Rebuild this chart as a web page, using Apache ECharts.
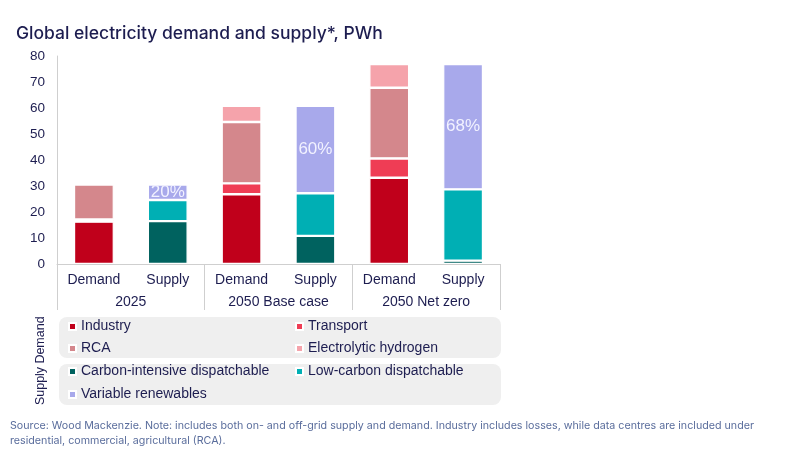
<!DOCTYPE html>
<html lang="en">
<head>
    <meta charset="UTF-8">
    <title>Global electricity demand and supply</title>
    <script src="https://cdn.jsdelivr.net/npm/echarts@6/dist/echarts.min.js"></script>
    <style>
        html, body { margin: 0; padding: 0; background: #fff; }
        #main { width: 800px; height: 450px; }
    </style>
</head>
<body>
<div id="main"></div>

<script type="text/javascript">
    // categories
    var bars = ['Demand', 'Supply', 'Demand', 'Supply', 'Demand', 'Supply'];
    var groups = ['2025', '2050 Base case', '2050 Net zero'];

    // demand side, PWh (null on supply bars)
    var industry = [16.3, null, 26.8, null, 33.2, null];
    var transport = [0.8, null, 4.2, null, 7.4, null];
    var rca = [13.5, null, 23.6, null, 27.2, null];
    var hydrogen = [0, null, 6.2, null, 9.1, null];

    // supply side, PWh (null on demand bars)
    var carbonIntensive = [null, 16.5, null, 10.8, null, 1.3];
    var lowCarbon = [null, 8.1, null, 16.4, null, 27.4];
    var renewables = [null, 6.0, null, 33.6, null, 48.2];
    var renewShare = ['', '20%', '', '60%', '', '68%'];

    var navy = '#1d1d50';
    var axisGrey = '#cfcfcf';
    var font = 'Liberation Sans';

    function stackBar(name, data, color) {
        return {
            name: name,
            type: 'bar',
            stack: 'total',
            data: data,
            barWidth: '54%',
            itemStyle: { color: color, borderColor: '#fff', borderWidth: 1.2 },
            emphasis: { disabled: true }
        };
    }

    function legendRow(top, names) {
        return {
            top: top,
            left: 68,
            padding: 0,
            itemGap: 8,
            itemWidth: 7,
            itemHeight: 7,
            icon: 'rect',
            selectedMode: false,
            textStyle: { color: navy, fontSize: 14, width: 206, lineHeight: 15, fontFamily: font },
            data: names
        };
    }

    var myChart = echarts.init(document.getElementById('main'));

    var series = [
        stackBar('Industry', industry, '#c0001b'),
        stackBar('Transport', transport, '#ef3d55'),
        stackBar('RCA', rca, '#d4878c'),
        stackBar('Electrolytic hydrogen', hydrogen, '#f5a3ab'),
        stackBar('Carbon-intensive dispatchable', carbonIntensive, '#00625f'),
        stackBar('Low-carbon dispatchable', lowCarbon, '#00afb4'),
        stackBar('Variable renewables', renewables, '#a8a9eb')
    ];
    series[6].label = {
        show: true,
        position: 'inside',
        color: '#f2f2ff',
        fontSize: 17,
        fontFamily: font,
        formatter: function (p) { return renewShare[p.dataIndex]; }
    };

    var option = {
        animation: false,
        title: [{
            text: 'Global electricity demand and supply*, PWh',
            left: 11,
            top: 20,
            textStyle: { color: navy, fontSize: 17.5, fontWeight: 500, fontFamily: 'Inter' }
        }, {
            text: 'Source: Wood Mackenzie. Note: includes both on- and off-grid supply and demand. Industry includes losses, while data centres are included under\nresidential, commercial, agricultural (RCA).',
            left: 10,
            top: 418,
            padding: 0,
            textStyle: { color: '#5a6d9c', fontSize: 10.7, fontWeight: 'normal', lineHeight: 15, fontFamily: 'Inter' }
        }],
        grid: { left: 57, right: 300, top: 56, bottom: 186 },
        xAxis: [{
            type: 'category',
            data: bars,
            axisLine: { lineStyle: { color: axisGrey } },
            axisTick: { show: false },
            axisLabel: { color: navy, fontSize: 14, margin: 9, interval: 0, fontFamily: font }
        }, {
            type: 'category',
            data: groups,
            position: 'bottom',
            axisLine: { show: false },
            axisTick: { show: true, length: 46, lineStyle: { color: axisGrey } },
            axisLabel: { color: navy, fontSize: 14, margin: 31, fontFamily: font }
        }],
        yAxis: {
            type: 'value',
            min: 0,
            max: 80,
            interval: 10,
            axisLine: { show: true, lineStyle: { color: axisGrey } },
            axisTick: { show: false },
            splitLine: { show: false },
            axisLabel: { color: navy, fontSize: 13.5, margin: 12, fontFamily: font }
        },
        legend: [
            legendRow(319, ['Industry', 'Transport']),
            legendRow(341, ['RCA', 'Electrolytic hydrogen']),
            legendRow(364, ['Carbon-intensive dispatchable', 'Low-carbon dispatchable']),
            legendRow(387, ['Variable renewables'])
        ],
        graphic: [
            { type: 'rect', z: -1, shape: { x: 59, y: 317, width: 442, height: 41, r: 8 }, style: { fill: '#efefef' } },
            { type: 'rect', z: -1, shape: { x: 59, y: 364, width: 442, height: 41, r: 8 }, style: { fill: '#efefef' } },
            {
                type: 'text', x: 41, y: 340, rotation: Math.PI / 2,
                style: { text: 'Demand', fill: navy, fontSize: 12.5, fontFamily: font, align: 'center', verticalAlign: 'middle' }
            },
            {
                type: 'text', x: 41, y: 386, rotation: Math.PI / 2,
                style: { text: 'Supply', fill: navy, fontSize: 12.5, fontFamily: font, align: 'center', verticalAlign: 'middle' }
            }
        ],
        series: series
    };

    myChart.setOption(option);
</script>

</body>
</html>
